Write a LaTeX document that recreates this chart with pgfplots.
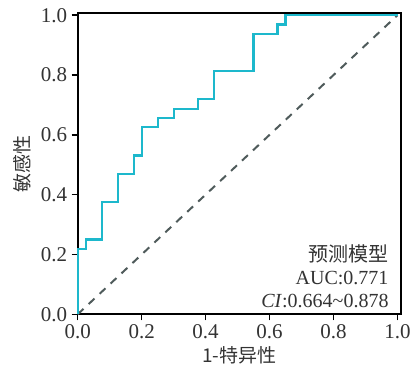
\documentclass[border=0pt]{standalone}
\usepackage{pgfplots}
\pgfplotsset{compat=1.18}
\usepackage{fontspec}
\setmainfont{Liberation Serif}
\newfontfamily\cjk{Noto Sans CJK SC}
\definecolor{roc}{HTML}{1DB8CC}
\definecolor{diag}{HTML}{4F5B5B}
\definecolor{txt}{HTML}{333333}
\begin{document}
\begin{tikzpicture}
\begin{axis}[
  scale only axis,
  width=323pt, height=301.5pt,
  xmin=0, xmax=1.01, ymin=0, ymax=1.008,
  xtick={0,0.2,...,1.0}, ytick={0,0.2,...,1.0},
  xtick pos=bottom, ytick pos=left,
  tick align=outside, major tick length=6pt,
  every tick/.style={black, line width=1.5pt},
  axis line style={line width=2pt, black},
  /pgf/number format/.cd, fixed, fixed zerofill, precision=1, assume math mode=true,
  /pgfplots/.cd,
  tick label style={font=\fontsize{21}{22}\selectfont, text=txt},
  xticklabel style={yshift=-1pt},
  yticklabel style={xshift=-1pt},
  xlabel={\cjk 1-特异性}, ylabel={\cjk 敏感性},
  label style={font=\fontsize{19}{22}\selectfont, text=txt},
  xlabel style={at={(rel axis cs:0.5,0)}, anchor=center, yshift=-41pt},
  ylabel style={at={(rel axis cs:0,0.5)}, anchor=center, yshift=55pt},
  clip=false,
]
\coordinate (O) at (rel axis cs:0,0);
\addplot[diag, line width=2pt, dash pattern=on 8pt off 7pt] coordinates {(0,0) (1,1)};
\addplot[roc, line width=2.2pt, line join=miter] coordinates {
(0,0)(0,0.219)(0.025,0.219)(0.025,0.25)(0.075,0.25)(0.075,0.375)(0.125,0.375)(0.125,0.469)
(0.175,0.469)(0.175,0.531)(0.2,0.531)(0.2,0.625)(0.25,0.625)(0.25,0.656)(0.3,0.656)(0.3,0.6875)
(0.375,0.6875)(0.375,0.719)(0.425,0.719)(0.425,0.8125)(0.55,0.8125)(0.55,0.9375)(0.625,0.9375)
(0.625,0.969)(0.65,0.969)(0.65,1)(1,1)};
\node[anchor=south east, align=right, inner xsep=12pt, inner ysep=6pt, text=txt,
      font=\fontsize{20}{23}\selectfont] at (rel axis cs:1,0)
  {{\cjk 预测模型}\\AUC:0.771\\\textit{CI}:0.664\textasciitilde 0.878};
\end{axis}
\pgfresetboundingbox
\path ([shift={(-77.7pt,-53pt)}]O) rectangle ([shift={(335.3pt,314.3pt)}]O);
\end{tikzpicture}
\end{document}
